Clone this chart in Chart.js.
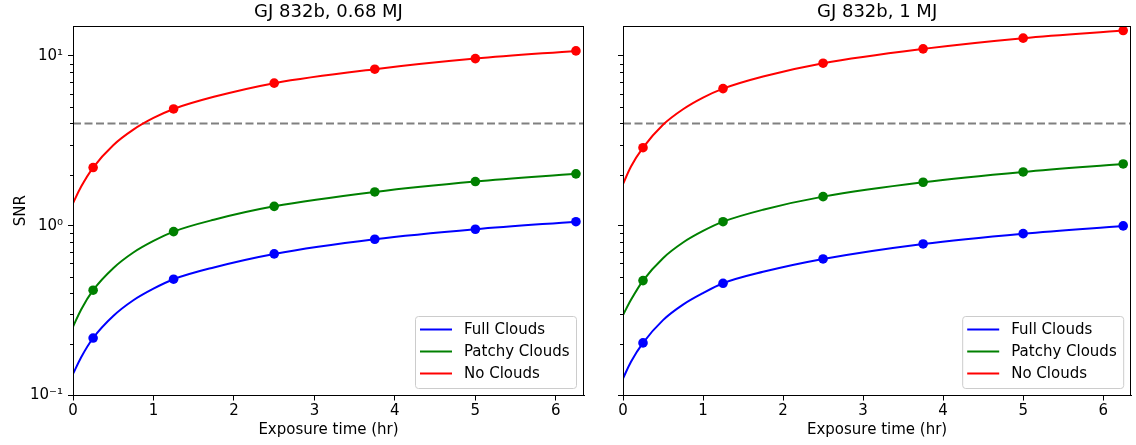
<!DOCTYPE html>
<html>
<head>
<meta charset="utf-8">
<script src="https://cdn.jsdelivr.net/npm/chart.js@4"></script>
<style>
  html, body { margin: 0; padding: 0; background: #fff; }
  #wrap { position: relative; width: 1136px; height: 445px; }
  canvas { position: absolute; top: 0; }
  #left { left: 0; }
  #right { left: 598px; }
</style>
</head>
<body>
<div id="wrap">
  <canvas id="left" width="598" height="445"></canvas>
  <canvas id="right" width="538" height="445"></canvas>
</div>
<script>
const curveHr = [0, 0.1, 0.25, 0.5, 0.75, 1, 1.25, 1.75, 2.5, 3.75, 5, 6.25];
const markerHr = [0.25, 1.25, 2.5, 3.75, 5, 6.25];
const seriesNames = ["Full Clouds", "Patchy Clouds", "No Clouds"];
const seriesColors = ["#0000ff", "#008000", "#ff0000"];

// GJ 832b, 0.68 MJ
const fullClouds068 = [0.134, 0.1675, 0.218, 0.294, 0.364, 0.426, 0.484, 0.568, 0.682, 0.832, 0.953, 1.056];
const patchyClouds068 = [0.254, 0.320, 0.417, 0.562, 0.695, 0.813, 0.923, 1.084, 1.30, 1.58, 1.82, 2.02];
const noClouds068 = [1.356, 1.694, 2.20, 2.98, 3.68, 4.31, 4.87, 5.74, 6.91, 8.35, 9.64, 10.7];

// GJ 832b, 1 MJ
const fullClouds1 = [0.126, 0.158, 0.204, 0.278, 0.343, 0.401, 0.458, 0.535, 0.637, 0.781, 0.898, 0.997];
const patchyClouds1 = [0.298, 0.366, 0.475, 0.644, 0.796, 0.931, 1.056, 1.242, 1.483, 1.803, 2.073, 2.311];
const noClouds1 = [1.76, 2.23, 2.88, 3.93, 4.85, 5.68, 6.42, 7.57, 9.06, 11.0, 12.72, 14.1];

const snrThreshold = 4;
const xRange = [0, 6.35];
const yRange = [0.1, 15];
const yMajorTicks = [0.1, 1, 10];
const yMajorLabels = ["10\u207b\u00b9", "10\u2070", "10\u00b9"];

Chart.defaults.font.family = "'DejaVu Sans', sans-serif";
Chart.defaults.color = "#000";

function majorIndex(v) {
  return yMajorTicks.findIndex(t => Math.abs(t - v) < 1e-9);
}

// frame on all four sides + short minor ticks on the log axis
const framePlugin = {
  id: "frame",
  afterDraw(chart) {
    const { ctx, chartArea } = chart;
    const y = chart.scales.y;
    ctx.save();
    ctx.strokeStyle = "#000";
    ctx.lineWidth = 1;
    ctx.beginPath();
    y.ticks.forEach(t => {
      const e = Math.floor(Math.log10(t.value) + 1e-9);
      const m = t.value / Math.pow(10, e);
      const isInt = Math.abs(m - Math.round(m)) < 1e-6;
      if (!isInt || Math.round(m) === 1) return;
      const py = Math.round(y.getPixelForValue(t.value)) + 0.5;
      ctx.moveTo(chartArea.left - 3, py);
      ctx.lineTo(chartArea.left, py);
    });
    ctx.stroke();
    const l = Math.round(chartArea.left) + 0.5;
    const tp = Math.round(chartArea.top) + 0.5;
    const r = Math.round(chartArea.right) - 0.5;
    const b = Math.round(chartArea.bottom) - 0.5;
    ctx.strokeRect(l, tp, r - l, b - tp);
    ctx.restore();
  }
};

// legend box in the lower right corner, like matplotlib's loc="lower right"
const legendPlugin = {
  id: "cornerLegend",
  afterDraw(chart) {
    const { ctx, chartArea } = chart;
    const items = chart.data.datasets.filter(d => d.label);
    const w = 161, h = 72;
    const x0 = chartArea.right - 8 - w;
    const y0 = chartArea.bottom - 7.5 - h;
    ctx.save();
    ctx.beginPath();
    ctx.roundRect(x0 + 0.5, y0 + 0.5, w, h, 3);
    ctx.fillStyle = "rgba(255,255,255,0.8)";
    ctx.fill();
    ctx.strokeStyle = "#cccccc";
    ctx.lineWidth = 1;
    ctx.stroke();
    ctx.font = "15px 'DejaVu Sans'";
    ctx.textBaseline = "middle";
    items.forEach((d, i) => {
      const yy = y0 + 13.5 + i * 22;
      ctx.strokeStyle = d.borderColor;
      ctx.lineWidth = 2;
      ctx.beginPath();
      ctx.moveTo(x0 + 5, yy);
      ctx.lineTo(x0 + 37, yy);
      ctx.stroke();
      ctx.fillStyle = "#000";
      ctx.fillText(d.label, x0 + 49, yy + 0.5);
    });
    ctx.restore();
  }
};

function makeChart(id, title, values, yAxisWidth, rightPad, showYLabels) {
  const datasets = seriesNames.map((name, i) => ({
    label: name,
    data: curveHr.map((x, j) => ({ x: x, y: values[i][j] })),
    borderColor: seriesColors[i],
    backgroundColor: seriesColors[i],
    borderWidth: 2,
    cubicInterpolationMode: "monotone",
    pointRadius: ctx => (ctx.raw && markerHr.includes(ctx.raw.x) ? 4.8 : 0),
    pointBorderWidth: 0,
    pointHoverRadius: 0
  }));
  datasets.push({
    label: "",
    data: [{ x: xRange[0], y: snrThreshold }, { x: xRange[1], y: snrThreshold }],
    borderColor: "#808080",
    borderDash: [8, 3.5],
    borderWidth: 2,
    pointRadius: 0
  });

  return new Chart(document.getElementById(id), {
    type: "line",
    data: { datasets: datasets },
    options: {
      responsive: false,
      animation: false,
      layout: { padding: { left: 0, right: rightPad, top: 0, bottom: 0 } },
      plugins: {
        legend: { display: false },
        tooltip: { enabled: false },
        title: {
          display: true,
          text: title,
          fullSize: false,
          color: "#000",
          font: { size: 18, weight: "normal" },
          padding: { top: 2, bottom: 2.4 }
        }
      },
      scales: {
        x: {
          type: "linear",
          min: xRange[0],
          max: xRange[1],
          afterFit: s => { s.height = 49.5; },
          ticks: { stepSize: 1, includeBounds: false, padding: 2, font: { size: 15 }, color: "#000", maxRotation: 0 },
          grid: { drawOnChartArea: false, tickLength: 5, tickColor: "#000", tickWidth: 1 },
          border: { color: "#000", width: 1 },
          title: {
            display: true,
            text: "Exposure time (hr)",
            font: { size: 15 },
            color: "#000",
            padding: { top: 0, bottom: 6 }
          }
        },
        y: {
          type: "logarithmic",
          min: yRange[0],
          max: yRange[1],
          afterFit: s => { s.width = yAxisWidth; },
          ticks: {
            autoSkip: false,
            padding: 5,
            font: { size: 15 },
            color: "#000",
            callback: v => {
              const k = majorIndex(v);
              return showYLabels && k >= 0 ? yMajorLabels[k] : "";
            }
          },
          grid: {
            drawOnChartArea: false,
            tickLength: 5,
            tickWidth: 1,
            tickColor: c => (c.tick && majorIndex(c.tick.value) >= 0 ? "#000" : "rgba(0,0,0,0)")
          },
          border: { color: "#000", width: 1 },
          title: {
            display: showYLabels,
            text: "SNR",
            font: { size: 15 },
            color: "#000",
            padding: { top: 12.5, bottom: 0 }
          }
        }
      }
    },
    plugins: [framePlugin, legendPlugin]
  });
}

makeChart("left", "GJ 832b, 0.68 MJ", [fullClouds068, patchyClouds068, noClouds068], 73, 14, true);
makeChart("right", "GJ 832b, 1 MJ", [fullClouds1, patchyClouds1, noClouds1], 25, 1.5, false);
</script>
</body>
</html>
